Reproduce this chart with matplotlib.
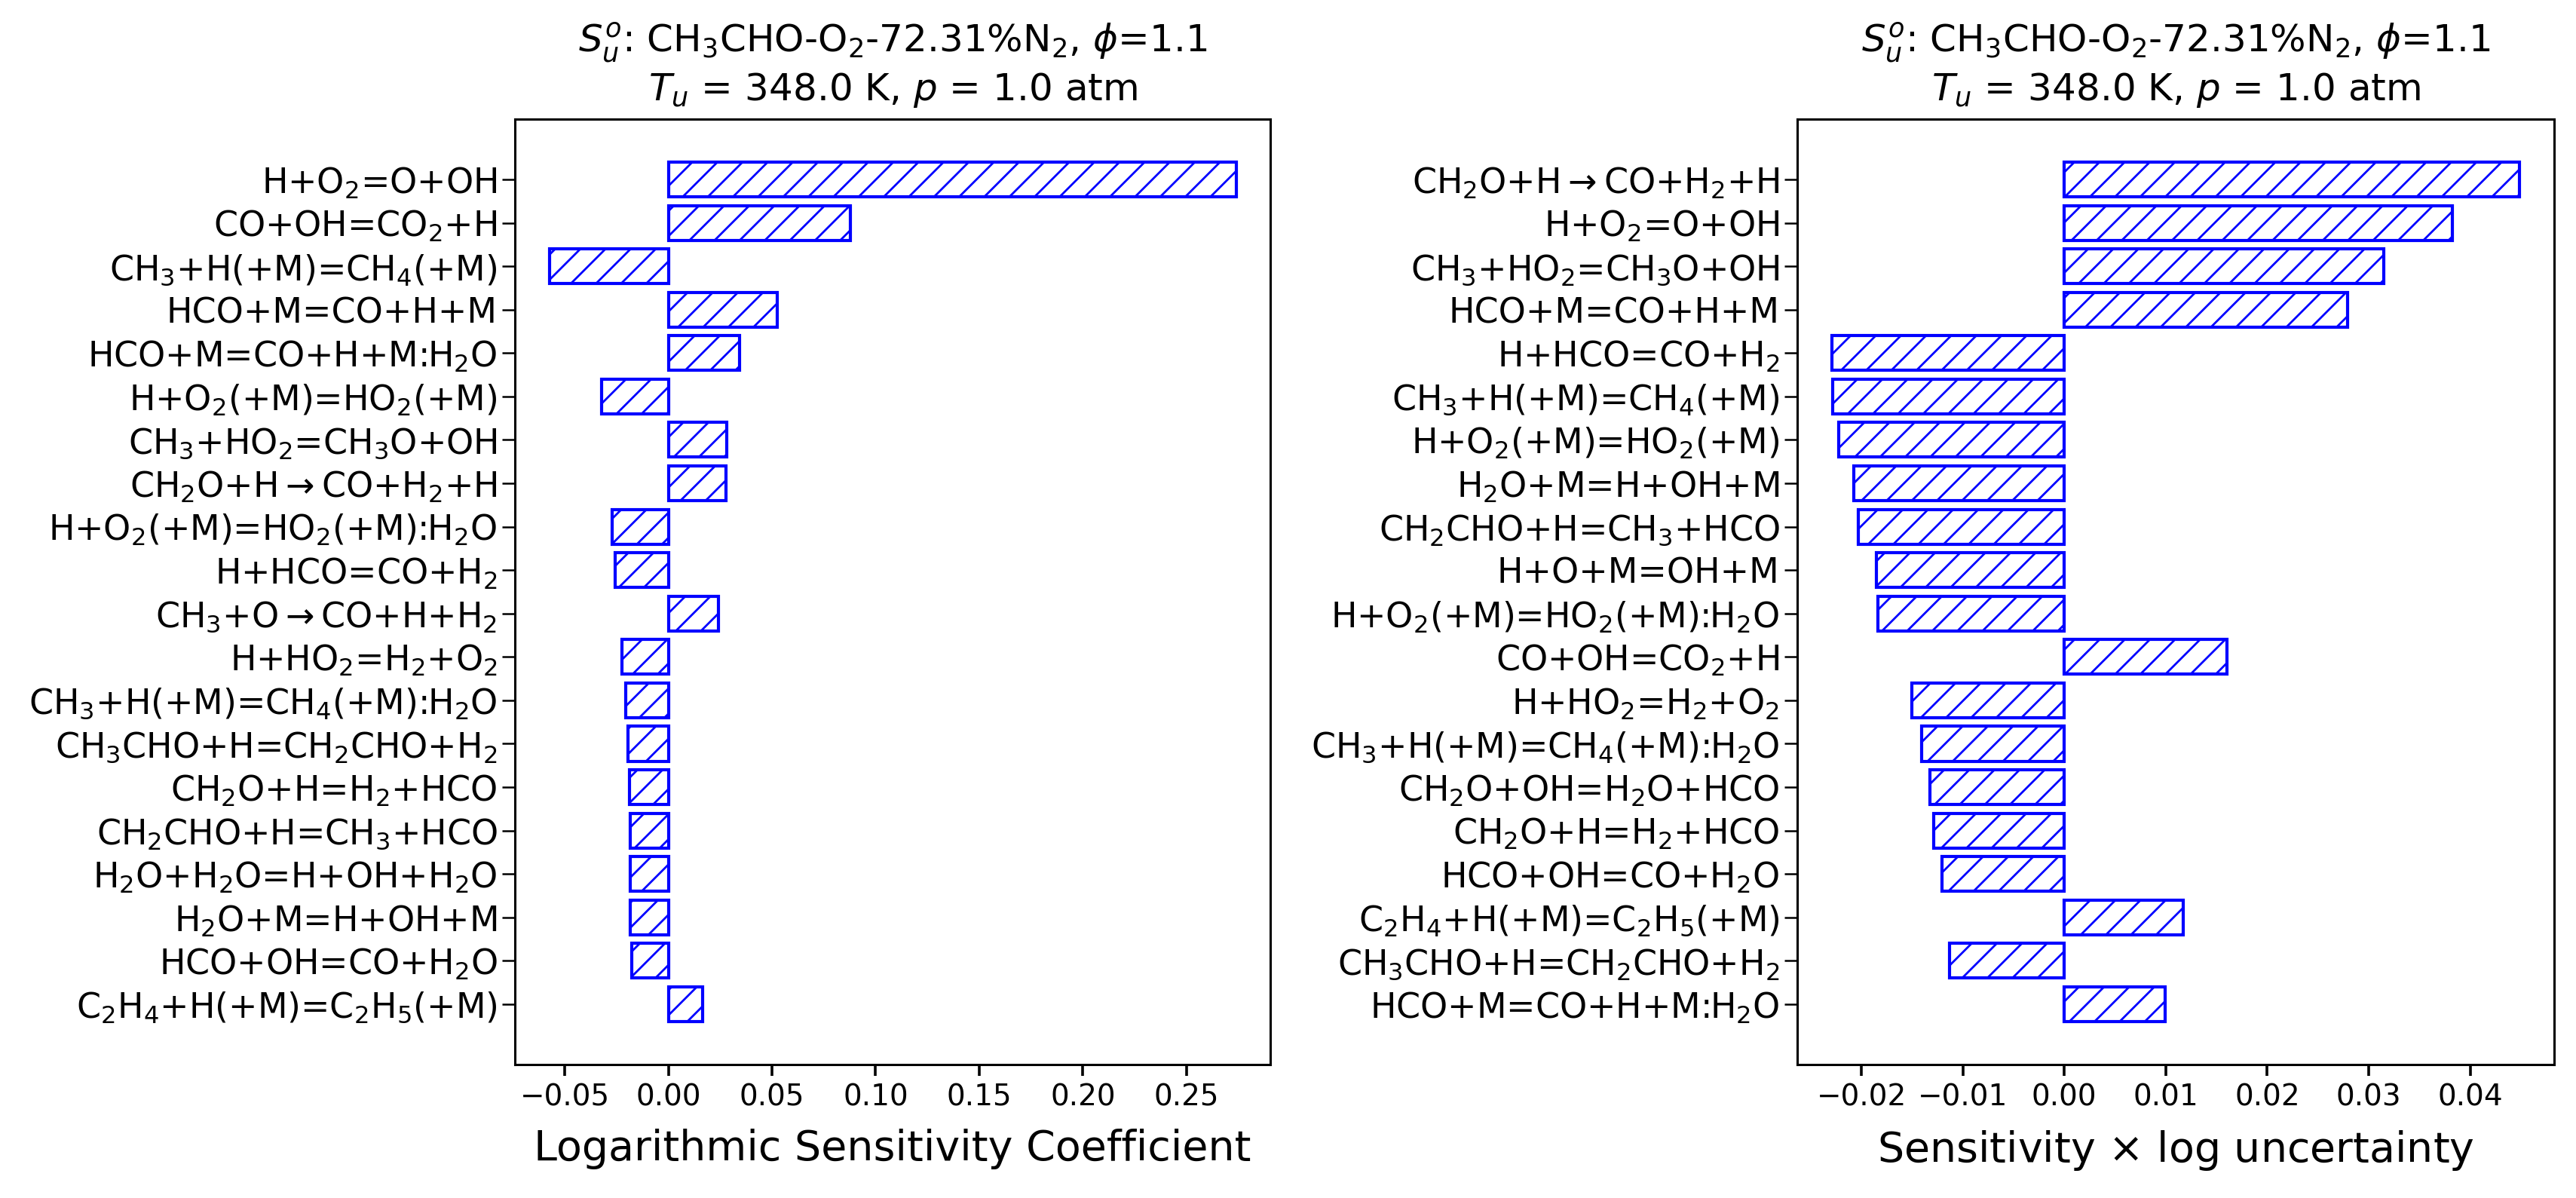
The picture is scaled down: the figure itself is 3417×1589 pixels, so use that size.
import numpy as np
import matplotlib
matplotlib.use('Agg')
import matplotlib.pyplot as plt

# Left panel: logarithmic sensitivity coefficients
left_reactions = [
    r'H+O$_2$=O+OH',
    r'CO+OH=CO$_2$+H',
    r'CH$_3$+H(+M)=CH$_4$(+M)',
    r'HCO+M=CO+H+M',
    r'HCO+M=CO+H+M:H$_2$O',
    r'H+O$_2$(+M)=HO$_2$(+M)',
    r'CH$_3$+HO$_2$=CH$_3$O+OH',
    r'CH$_2$O+H$\rightarrow$CO+H$_2$+H',
    r'H+O$_2$(+M)=HO$_2$(+M):H$_2$O',
    r'H+HCO=CO+H$_2$',
    r'CH$_3$+O$\rightarrow$CO+H+H$_2$',
    r'H+HO$_2$=H$_2$+O$_2$',
    r'CH$_3$+H(+M)=CH$_4$(+M):H$_2$O',
    r'CH$_3$CHO+H=CH$_2$CHO+H$_2$',
    r'CH$_2$O+H=H$_2$+HCO',
    r'CH$_2$CHO+H=CH$_3$+HCO',
    r'H$_2$O+H$_2$O=H+OH+H$_2$O',
    r'H$_2$O+M=H+OH+M',
    r'HCO+OH=CO+H$_2$O',
    r'C$_2$H$_4$+H(+M)=C$_2$H$_5$(+M)',
]
left_values = [0.2740, 0.0878, -0.0575, 0.0524, 0.0343, -0.0323, 0.0283, 0.0276,
               -0.0272, -0.0256, 0.0240, -0.0224, -0.0205, -0.0197, -0.0189,
               -0.0186, -0.0185, -0.0184, -0.0177, 0.0165]

# Right panel: sensitivity x log uncertainty
right_reactions = [
    r'CH$_2$O+H$\rightarrow$CO+H$_2$+H',
    r'H+O$_2$=O+OH',
    r'CH$_3$+HO$_2$=CH$_3$O+OH',
    r'HCO+M=CO+H+M',
    r'H+HCO=CO+H$_2$',
    r'CH$_3$+H(+M)=CH$_4$(+M)',
    r'H+O$_2$(+M)=HO$_2$(+M)',
    r'H$_2$O+M=H+OH+M',
    r'CH$_2$CHO+H=CH$_3$+HCO',
    r'H+O+M=OH+M',
    r'H+O$_2$(+M)=HO$_2$(+M):H$_2$O',
    r'CO+OH=CO$_2$+H',
    r'H+HO$_2$=H$_2$+O$_2$',
    r'CH$_3$+H(+M)=CH$_4$(+M):H$_2$O',
    r'CH$_2$O+OH=H$_2$O+HCO',
    r'CH$_2$O+H=H$_2$+HCO',
    r'HCO+OH=CO+H$_2$O',
    r'C$_2$H$_4$+H(+M)=C$_2$H$_5$(+M)',
    r'CH$_3$CHO+H=CH$_2$CHO+H$_2$',
    r'HCO+M=CO+H+M:H$_2$O',
]
right_values = [0.04488, 0.03821, 0.03146, 0.02789, -0.02293, -0.02285, -0.02220,
                -0.02073, -0.02033, -0.01854, -0.01837, 0.01602, -0.01504,
                -0.01407, -0.01325, -0.01285, -0.01203, 0.01171, -0.01130, 0.00992]

title = ('$S_u^o$: CH$_3$CHO-O$_2$-72.31%N$_2$, $\\phi$=1.1\n'
         '$T_u$ = 348.0 K, $p$ = 1.0 atm')

fig = plt.figure(figsize=(3417 / 200, 1589 / 200), dpi=200)
ax1 = fig.add_axes([0.1999, 0.1114, 0.4932 - 0.1999, 0.9006 - 0.1114])
ax2 = fig.add_axes([0.6977, 0.1114, 0.9915 - 0.6977, 0.9006 - 0.1114])

panels = [(ax1, left_reactions, left_values, 'Logarithmic Sensitivity Coefficient'),
          (ax2, right_reactions, right_values, r'Sensitivity $\times$ log uncertainty')]

for ax, names, vals, xlabel in panels:
    y = np.arange(len(names))
    ax.barh(y, vals, height=0.8, color='white', edgecolor='blue',
            hatch='//', linewidth=1.5)
    ax.set_yticks(y)
    ax.set_yticklabels(names, fontsize=16.5)
    ax.invert_yaxis()
    ax.tick_params(axis='x', labelsize=14, length=5.5, width=1.3)
    ax.tick_params(axis='y', length=6, width=0.9, pad=2.5)
    ax.set_xlabel(xlabel, fontsize=20, labelpad=8)
    ax.set_title(title, fontsize=18, pad=9)
    for s in ax.spines.values():
        s.set_linewidth(1.1)

fig.savefig('out.png', dpi=200)
